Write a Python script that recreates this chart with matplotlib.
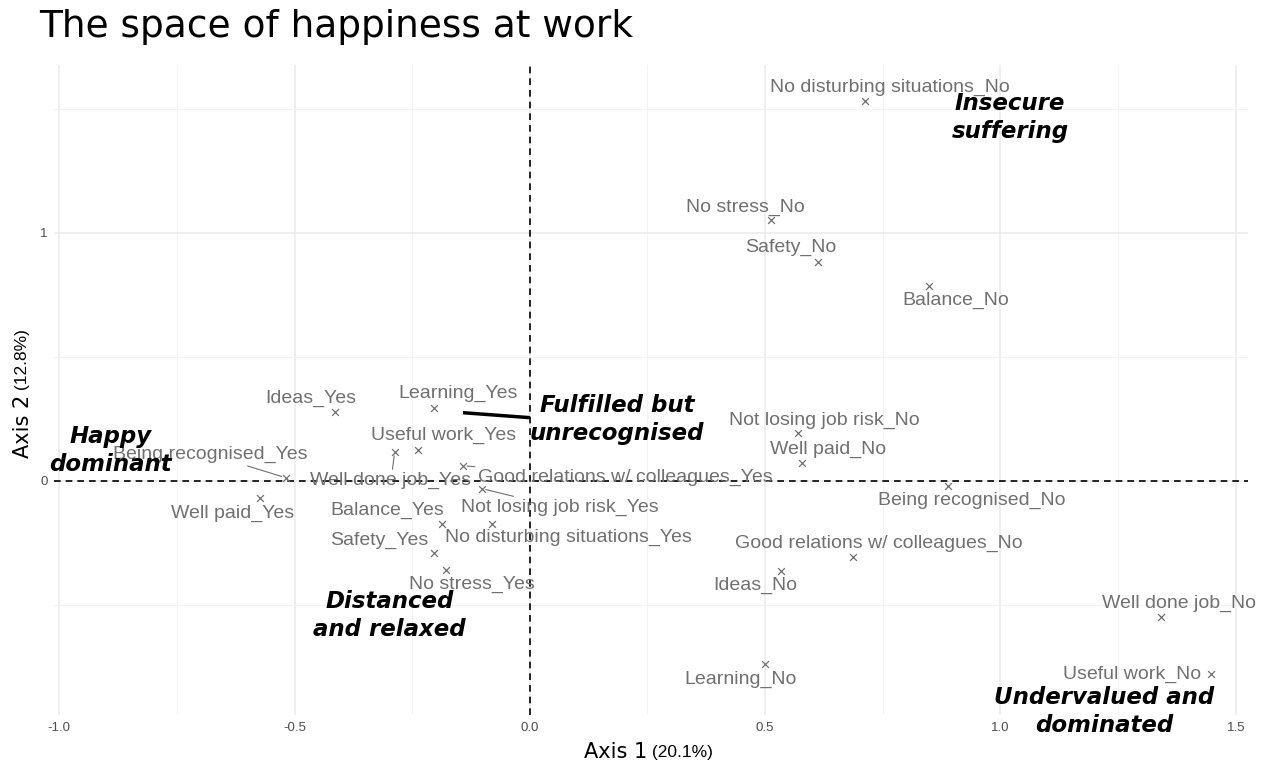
import matplotlib.pyplot as plt
from matplotlib.ticker import MultipleLocator, FormatStrFormatter

# MCA coordinates of the categories (axis 1, axis 2)
categories = [
    "No disturbing situations_No", "No stress_No", "Safety_No", "Balance_No",
    "Not losing job risk_No", "Well paid_No", "Being recognised_No",
    "Good relations w/ colleagues_No", "Ideas_No", "Well done job_No",
    "Learning_No", "Useful work_No",
    "Ideas_Yes", "Learning_Yes", "Useful work_Yes", "Being recognised_Yes",
    "Well done job_Yes", "Good relations w/ colleagues_Yes",
    "Not losing job risk_Yes", "Balance_Yes", "Well paid_Yes",
    "No disturbing situations_Yes", "Safety_Yes", "No stress_Yes",
]
dim1 = [0.712, 0.512, 0.612, 0.848, 0.570, 0.578, 0.888, 0.687, 0.533, 1.341,
        0.499, 1.447,
        -0.414, -0.204, -0.238, -0.519, -0.287, -0.142, -0.102, -0.187,
        -0.574, -0.081, -0.204, -0.179]
dim2 = [1.532, 1.052, 0.883, 0.786, 0.194, 0.073, -0.020, -0.306, -0.363,
        -0.548, -0.738, -0.778,
        0.278, 0.294, 0.125, 0.012, 0.117, 0.060, -0.032, -0.173,
        -0.069, -0.173, -0.290, -0.359]

# repelled label positions
lab1 = [0.765, 0.457, 0.555, 0.905, 0.625, 0.633, 0.939, 0.742, 0.480, 1.379,
        0.448, 1.279,
        -0.465, -0.153, -0.183, -0.678, -0.295, 0.202, 0.064, -0.302,
        -0.631, 0.081, -0.319, -0.123]
lab2 = [1.585, 1.101, 0.940, 0.726, 0.242, 0.125, -0.081, -0.254, -0.423,
        -0.496, -0.802, -0.782,
        0.331, 0.351, 0.181, 0.105, 0.0, 0.012, -0.109, -0.121,
        -0.133, -0.230, -0.242, -0.419]
with_segment = ["Being recognised_Yes", "Well done job_Yes",
                "Good relations w/ colleagues_Yes", "Not losing job risk_Yes"]

# quadrant names
zones = ["Insecure\nsuffering", "Fulfilled but\nunrecognised", "Happy\ndominant",
         "Distanced\nand relaxed", "Undervalued and\ndominated"]
zone1 = [1.020, 0.185, -0.891, -0.298, 1.220]
zone2 = [1.464, 0.246, 0.121, -0.544, -0.931]

gray = "#707070"

fig = plt.figure(figsize=(12.67, 7.62), dpi=100)
ax = fig.add_axes([0.043, 0.062, 0.942, 0.853])

ax.set_xlim(-1.01, 1.526)
ax.set_ylim(-0.944, 1.677)
ax.xaxis.set_major_locator(MultipleLocator(0.5))
ax.xaxis.set_minor_locator(MultipleLocator(0.25))
ax.xaxis.set_major_formatter(FormatStrFormatter("%.1f"))
ax.set_yticks([0, 1])
ax.set_yticks([-0.5, 0.5, 1.5], minor=True)
ax.grid(True, which="major", color="#ebebeb", lw=1.1)
ax.grid(True, which="minor", color="#f3f3f3", lw=0.8)
ax.set_axisbelow(True)
for s in ax.spines.values():
    s.set_visible(False)
ax.tick_params(which="both", length=0, labelsize=9.5, labelcolor="#4d4d4d", pad=5)
for t in ax.get_xticklabels() + ax.get_yticklabels():
    t.set_family("Liberation Sans")

ax.axhline(0, color="black", ls=(0, (4, 3)), lw=1.2)
ax.axvline(0, color="black", ls=(0, (4, 3)), lw=1.2)

ax.scatter(dim1, dim2, marker="x", s=24, color=gray, linewidths=0.9, zorder=3)

for name, x, y, lx, ly in zip(categories, dim1, dim2, lab1, lab2):
    if name in with_segment:
        ax.annotate(name, xy=(x, y), xytext=(lx, ly), ha="center", va="center",
                    fontsize=14, color=gray, family="Liberation Sans",
                    arrowprops=dict(arrowstyle="-", color=gray, lw=0.8,
                                    shrinkA=0, shrinkB=3))
    else:
        ax.text(lx, ly, name, ha="center", va="center", fontsize=14,
                color=gray, family="Liberation Sans")

# segment pointing to the "Fulfilled" zone
ax.plot([-0.142, 0.0], [0.274, 0.254], color="black", lw=2.5,
        solid_capstyle="butt")

for z, x, y in zip(zones, zone1, zone2):
    ax.text(x, y, z, ha="center", va="center", fontsize=16.5, color="black",
            fontweight="bold", fontstyle="italic", linespacing=1.25,
            family="DejaVu Sans")

fig.text(0.031, 0.965, "The space of happiness at work", fontsize=27,
         ha="left", va="center", family="DejaVu Sans")

fig.text(0.511, 0.013, "Axis 1", fontsize=15, ha="right", va="center",
         family="DejaVu Sans")
fig.text(0.511, 0.013, " (20.1%)", fontsize=12.5, ha="left", va="center",
         family="Liberation Sans")
fig.text(0.018, 0.482, "Axis 2", fontsize=15, ha="center", va="top",
         rotation=90, family="DejaVu Sans")
fig.text(0.018, 0.482, " (12.8%)", fontsize=12.5, ha="center", va="bottom",
         rotation=90, family="Liberation Sans")

fig.savefig("out.png", dpi=100)
